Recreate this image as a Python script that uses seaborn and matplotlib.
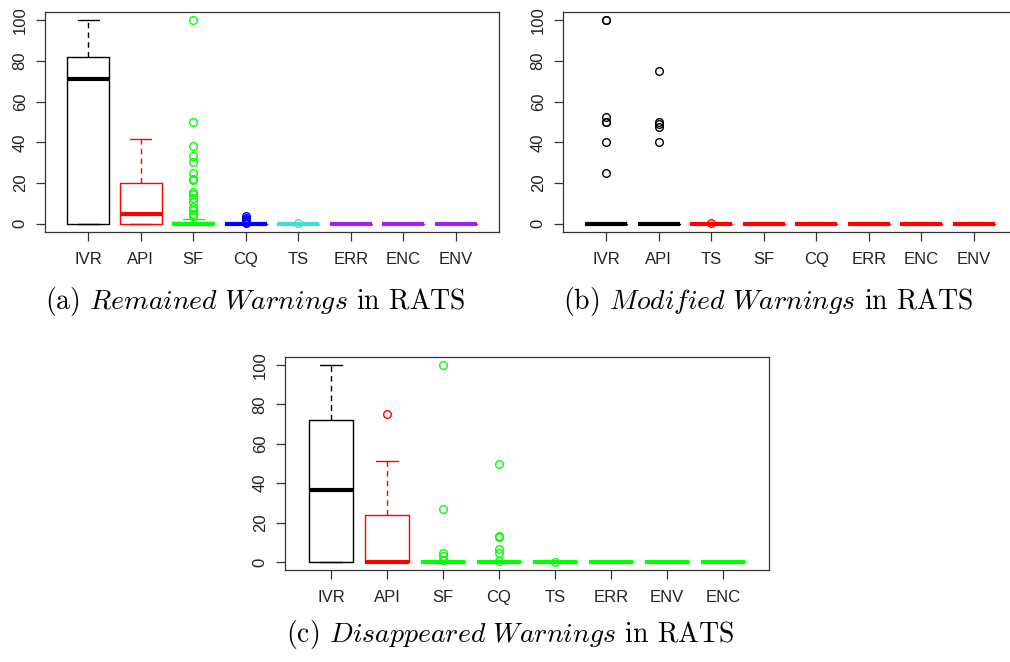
import matplotlib
matplotlib.use("Agg")
import matplotlib.pyplot as plt
import pandas as pd
import seaborn as sns

# ---------------- data ----------------
# (a) Remained warnings
cats_a = ["IVR", "API", "SF", "CQ", "TS", "ERR", "ENC", "ENV"]
ivr_a = [0, 0, 0, 40, 71, 80, 82, 95, 100]
api_a = [0, 0, 0, 2, 5, 10, 20, 30, 41.7]
sf_a_zero_count = 52
sf_a_small = [1, 1, 1, 1, 1, 1, 1, 1, 1, 1, 1.5, 2.45]
sf_a_outliers = [100, 50, 38.4, 33.5, 30.6, 25, 22, 21.6, 15.8, 14.9, 12.6, 10.5, 8.5, 6.9, 4.9, 3.9]
cq_a_zero_count = 40
cq_a_outliers = [0.5, 1, 1.5, 2, 2.5, 3, 3.7]
ts_a_zero_count = 40
ts_a_outliers = [0.3]
err_a_zero_count = 40
enc_a_zero_count = 40
env_a_zero_count = 40

# (b) Modified warnings
cats_b = ["IVR", "API", "TS", "SF", "CQ", "ERR", "ENC", "ENV"]
ivr_b_zero_count = 30
ivr_b_outliers = [25, 40, 50, 50, 52.5, 100, 100]
api_b_zero_count = 30
api_b_outliers = [40, 47.5, 49, 50, 75]
ts_b_zero_count = 30
ts_b_outliers = [0.3]
zero_b_count = 30

# (c) Disappeared warnings
cats_c = ["IVR", "API", "SF", "CQ", "TS", "ERR", "ENV", "ENC"]
ivr_c = [0, 0, 0, 20, 36.7, 60, 72, 90, 100]
api_c = [0, 0, 0, 0, 0, 12, 24, 51.5, 75]
sf_c_zero_count = 40
sf_c_outliers = [100, 26.7, 4.4, 3, 1.3]
cq_c_zero_count = 40
cq_c_outliers = [0.7, 4.4, 6.7, 12.5, 13.3, 50]
ts_c_zero_count = 40
ts_c_outliers = [0.2]
zero_c_count = 40

colors_a = ["black", "#FF0000", "#00FF00", "#0000FF", "#40E0D0", "#A020F0", "#A020F0", "#A020F0"]
colors_b = ["black", "black", "#FF0000", "#FF0000", "#FF0000", "#FF0000", "#FF0000", "#FF0000"]
colors_c = ["black", "#FF0000", "#00FF00", "#00FF00", "#00FF00", "#00FF00", "#00FF00", "#00FF00"]

groups_a = {
    "IVR": ivr_a,
    "API": api_a,
    "SF": [0] * sf_a_zero_count + sf_a_small + sf_a_outliers,
    "CQ": [0] * cq_a_zero_count + cq_a_outliers,
    "TS": [0] * ts_a_zero_count + ts_a_outliers,
    "ERR": [0] * err_a_zero_count,
    "ENC": [0] * enc_a_zero_count,
    "ENV": [0] * env_a_zero_count,
}
groups_b = {
    "IVR": [0] * ivr_b_zero_count + ivr_b_outliers,
    "API": [0] * api_b_zero_count + api_b_outliers,
    "TS": [0] * ts_b_zero_count + ts_b_outliers,
    "SF": [0] * zero_b_count,
    "CQ": [0] * zero_b_count,
    "ERR": [0] * zero_b_count,
    "ENC": [0] * zero_b_count,
    "ENV": [0] * zero_b_count,
}
groups_c = {
    "IVR": ivr_c,
    "API": api_c,
    "SF": [0] * sf_c_zero_count + sf_c_outliers,
    "CQ": [0] * cq_c_zero_count + cq_c_outliers,
    "TS": [0] * ts_c_zero_count + ts_c_outliers,
    "ERR": [0] * zero_c_count,
    "ENV": [0] * zero_c_count,
    "ENC": [0] * zero_c_count,
}


def long_df(groups):
    rows = [(k, v) for k, vals in groups.items() for v in vals]
    return pd.DataFrame(rows, columns=["cat", "val"])


sns.set_theme(style="white")
plt.rcParams["font.family"] = ["Liberation Sans", "DejaVu Sans"]
plt.rcParams["mathtext.fontset"] = "cm"

W, H = 1010, 662
fig = plt.figure(figsize=(W / 100, H / 100), dpi=100)


def panel(rect_px, groups, cats, colors):
    l, t, w, h = rect_px
    ax = fig.add_axes([l / W, (H - t - h) / H, w / W, h / H])
    df = long_df(groups)
    sns.boxplot(
        data=df, x="cat", y="val", hue="cat", order=cats, hue_order=cats,
        palette=dict(zip(cats, colors)), fill=False, legend=False, width=0.8,
        whis=1.5, linewidth=1.0, ax=ax,
        medianprops={"linewidth": 3},
        whiskerprops={"linestyle": (0, (4, 3))},
        flierprops={"marker": "o", "markerfacecolor": "none", "markersize": 5.5,
                    "markeredgewidth": 1.0},
    )
    ax.set_xlim(-0.82, 7.82)
    ax.set_ylim(-4, 104)
    ax.set_yticks([0, 20, 40, 60, 80, 100])
    ax.set_xlabel("")
    ax.set_ylabel("")
    for sp in ax.spines.values():
        sp.set_visible(True)
        sp.set_color("#333333")
        sp.set_linewidth(0.9)
    ax.tick_params(axis="both", direction="out", length=6.5, width=0.9,
                   color="#333333", labelsize=12, labelcolor="#222222")
    ax.tick_params(axis="x", pad=8, bottom=True)
    ax.tick_params(axis="y", pad=6, left=True)
    for lab in ax.get_yticklabels():
        lab.set_rotation(90)
        lab.set_va("center")
    return ax


panel((45, 12, 454, 220), groups_a, cats_a, colors_a)
panel((563, 12, 454, 220), groups_b, cats_b, colors_b)
panel((285, 357, 484, 213), groups_c, cats_c, colors_c)

cap_kw = dict(fontsize=20, family="cmr10", ha="center", va="baseline", color="black")
fig.text(255 / W, 1 - 309 / H, r"(a) $\mathit{Remained\ Warnings}$ in RATS", **cap_kw)
fig.text(768 / W, 1 - 309 / H, r"(b) $\mathit{Modified\ Warnings}$ in RATS", **cap_kw)
fig.text(510 / W, 1 - 642 / H, r"(c) $\mathit{Disappeared\ Warnings}$ in RATS", **cap_kw)

fig.savefig("out.png", dpi=100)
